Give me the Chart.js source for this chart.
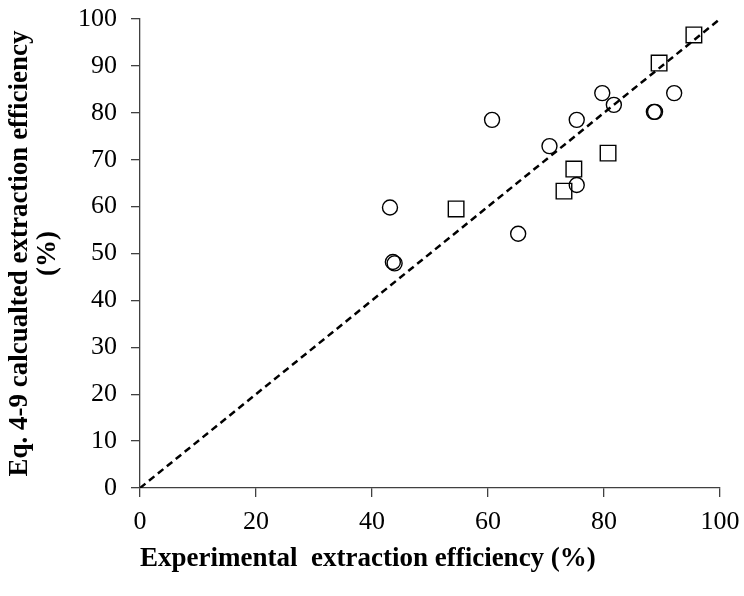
<!DOCTYPE html>
<html>
<head>
<meta charset="utf-8">
<script src="https://cdn.jsdelivr.net/npm/chart.js@4"></script>
<style>
  html, body { margin: 0; padding: 0; background: #fff; }
  #wrap { width: 744px; height: 596px; }
</style>
</head>
<body>
<div id="wrap"><canvas id="parityChart" width="744" height="596"></canvas></div>
<script>
// Circles: experimental vs Eq. 4-9 calculated
const circleX = [43.1, 43.6, 43.9, 60.7, 65.2, 70.6, 75.3, 75.3, 79.7, 81.7, 88.6, 88.8, 92.1];
const circleY = [59.8, 48.2, 47.9, 78.5, 54.2, 72.9, 78.5, 64.6, 84.2, 81.7, 80.2, 80.2, 84.2];

// Squares
const squareX = [54.5, 73.1, 74.8, 80.7, 89.5, 95.5];
const squareY = [59.5, 63.3, 68.0, 71.4, 90.6, 96.6];

// 1:1 reference line
const lineX = [0, 100];
const lineY = [0, 100];

const xTitle = 'Experimental  extraction efficiency (%)';
const yTitle = ['Eq. 4-9 calcualted extraction efficiency', '(%)'];

const FONT = "'Liberation Serif', 'Times New Roman', serif";
const AXIS_COLOR = '#404040';

function toPoints(xs, ys) {
    return xs.map((x, i) => ({ x: x, y: ys[i] }));
}

const ctx = document.getElementById('parityChart').getContext('2d');

new Chart(ctx, {
    type: 'scatter',
    data: {
        datasets: [
            {
                label: 'circles',
                data: toPoints(circleX, circleY),
                pointStyle: 'circle',
                pointRadius: 7.5,
                pointBorderWidth: 1.4,
                borderColor: '#000',
                backgroundColor: 'rgba(0,0,0,0)',
                order: 1
            },
            {
                label: 'squares',
                data: toPoints(squareX, squareY),
                pointStyle: 'rect',
                pointRadius: 11,
                pointBorderWidth: 1.4,
                borderColor: '#000',
                backgroundColor: 'rgba(0,0,0,0)',
                order: 1
            },
            {
                label: '1:1',
                type: 'line',
                data: toPoints(lineX, lineY),
                borderColor: '#000',
                borderWidth: 2.5,
                borderDash: [7, 4.5],
                pointRadius: 0,
                fill: false,
                order: 2
            }
        ]
    },
    options: {
        responsive: false,
        animation: false,
        layout: { padding: { top: 19, right: 24, left: 0, bottom: 0 } },
        plugins: {
            legend: { display: false },
            tooltip: { enabled: false }
        },
        scales: {
            x: {
                type: 'linear',
                min: 0,
                max: 100,
                ticks: {
                    stepSize: 20,
                    color: '#000',
                    font: { family: FONT, size: 26 },
                    padding: 10
                },
                grid: {
                    drawOnChartArea: false,
                    drawTicks: true,
                    tickLength: 9,
                    color: AXIS_COLOR,
                    lineWidth: 1.3
                },
                border: { color: AXIS_COLOR, width: 1.3 },
                title: {
                    display: true,
                    text: xTitle,
                    align: 'start',
                    color: '#000',
                    font: { family: FONT, size: 27, weight: 'bold' },
                    padding: { top: 0, bottom: 21 }
                },
                afterFit: function (scale) {
                    scale.height = 108;
                    scale.paddingLeft = 0;
                    scale.paddingRight = 0;
                }
            },
            y: {
                type: 'linear',
                min: 0,
                max: 100,
                ticks: {
                    stepSize: 10,
                    color: '#000',
                    font: { family: FONT, size: 26 },
                    padding: 14
                },
                grid: {
                    drawOnChartArea: false,
                    drawTicks: true,
                    tickLength: 9,
                    color: AXIS_COLOR,
                    lineWidth: 1.3
                },
                border: { color: AXIS_COLOR, width: 1.3 },
                title: {
                    display: true,
                    text: yTitle,
                    color: '#000',
                    font: { family: FONT, size: 27, weight: 'bold', lineHeight: 1.04 },
                    padding: { top: 6, bottom: 0 }
                },
                afterFit: function (scale) {
                    scale.width = 140;
                    scale.paddingTop = 0;
                    scale.paddingBottom = 0;
                }
            }
        }
    }
});
</script>
</body>
</html>
